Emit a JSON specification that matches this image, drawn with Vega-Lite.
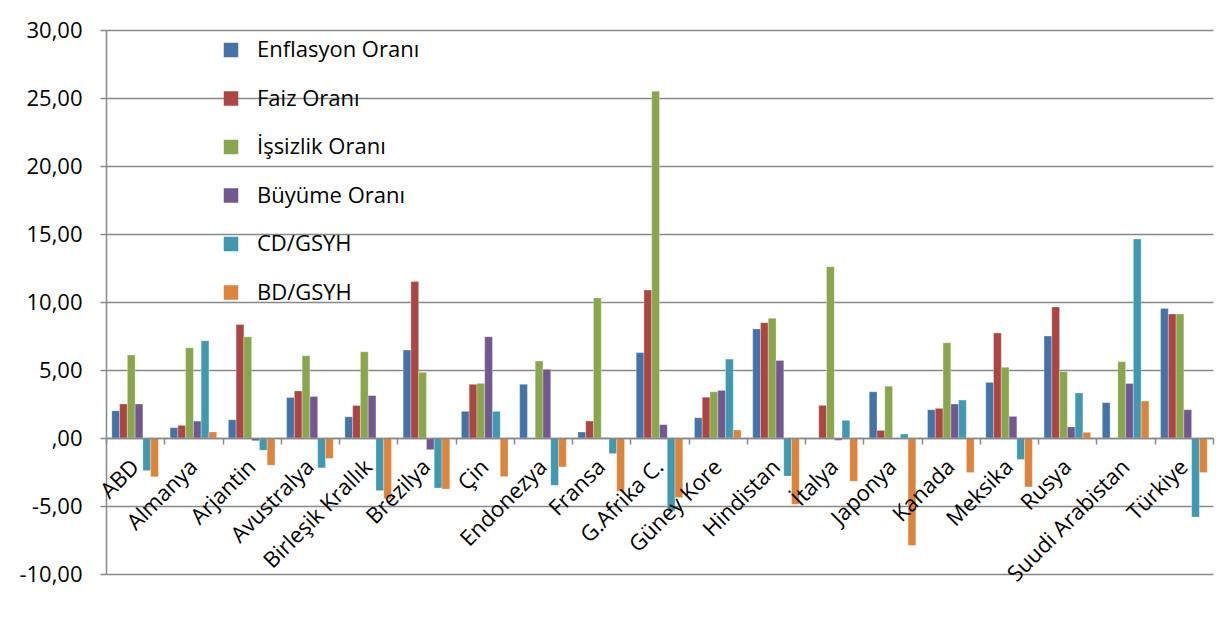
{
  "$schema": "https://vega.github.io/schema/vega-lite/v6.json",
  "width": 1107,
  "height": 544,
  "autosize": {"type": "none"},
  "padding": {"left": 106, "top": 30, "right": 6, "bottom": 56},
  "background": "white",
  "config": {
    "view": {"stroke": null},
    "font": "Open Sans"
  },
  "data": {
    "values": [
      {"ulke": "ABD", "seri": "Enflasyon Oranı", "deger": 2.0},
      {"ulke": "ABD", "seri": "Faiz Oranı", "deger": 2.5},
      {"ulke": "ABD", "seri": "İşsizlik Oranı", "deger": 6.1},
      {"ulke": "ABD", "seri": "Büyüme Oranı", "deger": 2.5},
      {"ulke": "ABD", "seri": "CD/GSYH", "deger": -2.4},
      {"ulke": "ABD", "seri": "BD/GSYH", "deger": -2.85},
      {"ulke": "Almanya", "seri": "Enflasyon Oranı", "deger": 0.76},
      {"ulke": "Almanya", "seri": "Faiz Oranı", "deger": 0.93},
      {"ulke": "Almanya", "seri": "İşsizlik Oranı", "deger": 6.63},
      {"ulke": "Almanya", "seri": "Büyüme Oranı", "deger": 1.24},
      {"ulke": "Almanya", "seri": "CD/GSYH", "deger": 7.15},
      {"ulke": "Almanya", "seri": "BD/GSYH", "deger": 0.44},
      {"ulke": "Arjantin", "seri": "Enflasyon Oranı", "deger": 1.34},
      {"ulke": "Arjantin", "seri": "Faiz Oranı", "deger": 8.34},
      {"ulke": "Arjantin", "seri": "İşsizlik Oranı", "deger": 7.44},
      {"ulke": "Arjantin", "seri": "Büyüme Oranı", "deger": -0.2},
      {"ulke": "Arjantin", "seri": "CD/GSYH", "deger": -0.9},
      {"ulke": "Arjantin", "seri": "BD/GSYH", "deger": -2.0},
      {"ulke": "Avustralya", "seri": "Enflasyon Oranı", "deger": 2.98},
      {"ulke": "Avustralya", "seri": "Faiz Oranı", "deger": 3.46},
      {"ulke": "Avustralya", "seri": "İşsizlik Oranı", "deger": 6.05},
      {"ulke": "Avustralya", "seri": "Büyüme Oranı", "deger": 3.05},
      {"ulke": "Avustralya", "seri": "CD/GSYH", "deger": -2.2},
      {"ulke": "Avustralya", "seri": "BD/GSYH", "deger": -1.5},
      {"ulke": "Birleşik Krallık", "seri": "Enflasyon Oranı", "deger": 1.56},
      {"ulke": "Birleşik Krallık", "seri": "Faiz Oranı", "deger": 2.39},
      {"ulke": "Birleşik Krallık", "seri": "İşsizlik Oranı", "deger": 6.34},
      {"ulke": "Birleşik Krallık", "seri": "Büyüme Oranı", "deger": 3.12},
      {"ulke": "Birleşik Krallık", "seri": "CD/GSYH", "deger": -3.87},
      {"ulke": "Birleşik Krallık", "seri": "BD/GSYH", "deger": -4.46},
      {"ulke": "Brezilya", "seri": "Enflasyon Oranı", "deger": 6.47},
      {"ulke": "Brezilya", "seri": "Faiz Oranı", "deger": 11.5},
      {"ulke": "Brezilya", "seri": "İşsizlik Oranı", "deger": 4.83},
      {"ulke": "Brezilya", "seri": "Büyüme Oranı", "deger": -0.86},
      {"ulke": "Brezilya", "seri": "CD/GSYH", "deger": -3.68},
      {"ulke": "Brezilya", "seri": "BD/GSYH", "deger": -3.75},
      {"ulke": "Çin", "seri": "Enflasyon Oranı", "deger": 1.96},
      {"ulke": "Çin", "seri": "Faiz Oranı", "deger": 3.95},
      {"ulke": "Çin", "seri": "İşsizlik Oranı", "deger": 4.02},
      {"ulke": "Çin", "seri": "Büyüme Oranı", "deger": 7.45},
      {"ulke": "Çin", "seri": "CD/GSYH", "deger": 1.96},
      {"ulke": "Çin", "seri": "BD/GSYH", "deger": -2.84},
      {"ulke": "Endonezya", "seri": "Enflasyon Oranı", "deger": 3.95},
      {"ulke": "Endonezya", "seri": "Faiz Oranı", "deger": 0},
      {"ulke": "Endonezya", "seri": "İşsizlik Oranı", "deger": 5.66},
      {"ulke": "Endonezya", "seri": "Büyüme Oranı", "deger": 5.05},
      {"ulke": "Endonezya", "seri": "CD/GSYH", "deger": -3.48},
      {"ulke": "Endonezya", "seri": "BD/GSYH", "deger": -2.13},
      {"ulke": "Fransa", "seri": "Enflasyon Oranı", "deger": 0.44},
      {"ulke": "Fransa", "seri": "Faiz Oranı", "deger": 1.25},
      {"ulke": "Fransa", "seri": "İşsizlik Oranı", "deger": 10.29},
      {"ulke": "Fransa", "seri": "Büyüme Oranı", "deger": 0.03},
      {"ulke": "Fransa", "seri": "CD/GSYH", "deger": -1.15},
      {"ulke": "Fransa", "seri": "BD/GSYH", "deger": -3.92},
      {"ulke": "G.Afrika C.", "seri": "Enflasyon Oranı", "deger": 6.28},
      {"ulke": "G.Afrika C.", "seri": "Faiz Oranı", "deger": 10.88},
      {"ulke": "G.Afrika C.", "seri": "İşsizlik Oranı", "deger": 25.5},
      {"ulke": "G.Afrika C.", "seri": "Büyüme Oranı", "deger": 0.98},
      {"ulke": "G.Afrika C.", "seri": "CD/GSYH", "deger": -5.37},
      {"ulke": "G.Afrika C.", "seri": "BD/GSYH", "deger": -4.38},
      {"ulke": "Güney Kore", "seri": "Enflasyon Oranı", "deger": 1.49},
      {"ulke": "Güney Kore", "seri": "Faiz Oranı", "deger": 3.0},
      {"ulke": "Güney Kore", "seri": "İşsizlik Oranı", "deger": 3.4},
      {"ulke": "Güney Kore", "seri": "Büyüme Oranı", "deger": 3.5},
      {"ulke": "Güney Kore", "seri": "CD/GSYH", "deger": 5.8},
      {"ulke": "Güney Kore", "seri": "BD/GSYH", "deger": 0.59},
      {"ulke": "Hindistan", "seri": "Enflasyon Oranı", "deger": 8.02},
      {"ulke": "Hindistan", "seri": "Faiz Oranı", "deger": 8.48},
      {"ulke": "Hindistan", "seri": "İşsizlik Oranı", "deger": 8.8},
      {"ulke": "Hindistan", "seri": "Büyüme Oranı", "deger": 5.7},
      {"ulke": "Hindistan", "seri": "CD/GSYH", "deger": -2.8},
      {"ulke": "Hindistan", "seri": "BD/GSYH", "deger": -4.88},
      {"ulke": "İtalya", "seri": "Enflasyon Oranı", "deger": -0.07},
      {"ulke": "İtalya", "seri": "Faiz Oranı", "deger": 2.4},
      {"ulke": "İtalya", "seri": "İşsizlik Oranı", "deger": 12.6},
      {"ulke": "İtalya", "seri": "Büyüme Oranı", "deger": -0.17},
      {"ulke": "İtalya", "seri": "CD/GSYH", "deger": 1.3},
      {"ulke": "İtalya", "seri": "BD/GSYH", "deger": -3.18},
      {"ulke": "Japonya", "seri": "Enflasyon Oranı", "deger": 3.4},
      {"ulke": "Japonya", "seri": "Faiz Oranı", "deger": 0.56},
      {"ulke": "Japonya", "seri": "İşsizlik Oranı", "deger": 3.81},
      {"ulke": "Japonya", "seri": "Büyüme Oranı", "deger": -0.07},
      {"ulke": "Japonya", "seri": "CD/GSYH", "deger": 0.29},
      {"ulke": "Japonya", "seri": "BD/GSYH", "deger": -7.9},
      {"ulke": "Kanada", "seri": "Enflasyon Oranı", "deger": 2.08},
      {"ulke": "Kanada", "seri": "Faiz Oranı", "deger": 2.18},
      {"ulke": "Kanada", "seri": "İşsizlik Oranı", "deger": 7.0},
      {"ulke": "Kanada", "seri": "Büyüme Oranı", "deger": 2.5},
      {"ulke": "Kanada", "seri": "CD/GSYH", "deger": 2.79},
      {"ulke": "Kanada", "seri": "BD/GSYH", "deger": -2.54},
      {"ulke": "Meksika", "seri": "Enflasyon Oranı", "deger": 4.09},
      {"ulke": "Meksika", "seri": "Faiz Oranı", "deger": 7.72},
      {"ulke": "Meksika", "seri": "İşsizlik Oranı", "deger": 5.2},
      {"ulke": "Meksika", "seri": "Büyüme Oranı", "deger": 1.59},
      {"ulke": "Meksika", "seri": "CD/GSYH", "deger": -1.58},
      {"ulke": "Meksika", "seri": "BD/GSYH", "deger": -3.6},
      {"ulke": "Rusya", "seri": "Enflasyon Oranı", "deger": 7.5},
      {"ulke": "Rusya", "seri": "Faiz Oranı", "deger": 9.63},
      {"ulke": "Rusya", "seri": "İşsizlik Oranı", "deger": 4.88},
      {"ulke": "Rusya", "seri": "Büyüme Oranı", "deger": 0.81},
      {"ulke": "Rusya", "seri": "CD/GSYH", "deger": 3.31},
      {"ulke": "Rusya", "seri": "BD/GSYH", "deger": 0.42},
      {"ulke": "Suudi Arabistan", "seri": "Enflasyon Oranı", "deger": 2.6},
      {"ulke": "Suudi Arabistan", "seri": "Faiz Oranı", "deger": 0},
      {"ulke": "Suudi Arabistan", "seri": "İşsizlik Oranı", "deger": 5.61},
      {"ulke": "Suudi Arabistan", "seri": "Büyüme Oranı", "deger": 4.0},
      {"ulke": "Suudi Arabistan", "seri": "CD/GSYH", "deger": 14.63},
      {"ulke": "Suudi Arabistan", "seri": "BD/GSYH", "deger": 2.72},
      {"ulke": "Türkiye", "seri": "Enflasyon Oranı", "deger": 9.53},
      {"ulke": "Türkiye", "seri": "Faiz Oranı", "deger": 9.12},
      {"ulke": "Türkiye", "seri": "İşsizlik Oranı", "deger": 9.12},
      {"ulke": "Türkiye", "seri": "Büyüme Oranı", "deger": 2.08},
      {"ulke": "Türkiye", "seri": "CD/GSYH", "deger": -5.81},
      {"ulke": "Türkiye", "seri": "BD/GSYH", "deger": -2.54}
    ]
  },
  "mark": {"type": "bar", "stroke": "white", "strokeWidth": 0.5, "strokeOpacity": 0.6},
  "encoding": {
    "x": {
      "field": "ulke",
      "type": "nominal",
      "sort": null,
      "scale": {"paddingInner": 0, "paddingOuter": 0},
      "axis": {
        "title": null,
        "offset": -136,
        "domainColor": "#888888",
        "domainWidth": 1.5,
        "tickBand": "extent",
        "tickColor": "#888888",
        "tickWidth": 1.5,
        "tickSize": 6,
        "labelAngle": -45,
        "labelAlign": "right",
        "labelBaseline": "middle",
        "labelPadding": 19,
        "labelFont": "Open Sans",
        "labelFontSize": 22,
        "labelColor": "#000000",
        "labelOverlap": false,
        "labelLimit": 0,
        "labelBound": false,
        "zindex": 1
      }
    },
    "xOffset": {
      "field": "seri",
      "type": "nominal",
      "sort": ["Enflasyon Oranı", "Faiz Oranı", "İşsizlik Oranı", "Büyüme Oranı", "CD/GSYH", "BD/GSYH"],
      "scale": {"paddingInner": 0, "paddingOuter": 0.75}
    },
    "y": {
      "field": "deger",
      "type": "quantitative",
      "scale": {"domain": [-10, 30], "nice": false, "zero": false},
      "axis": {
        "title": null,
        "values": [-10, -5, 0, 5, 10, 15, 20, 25, 30],
        "labelExpr": "datum.value == 0 ? ',00' : (datum.value < 0 ? '-' : '') + abs(datum.value) + ',00'",
        "labelFont": "Open Sans",
        "labelFontSize": 22,
        "labelColor": "#000000",
        "labelPadding": 18,
        "grid": true,
        "gridColor": "#888888",
        "gridWidth": 1.5,
        "domainColor": "#888888",
        "domainWidth": 1.5,
        "tickColor": "#888888",
        "tickWidth": 1.5,
        "tickSize": 6
      }
    },
    "color": {
      "field": "seri",
      "type": "nominal",
      "sort": ["Enflasyon Oranı", "Faiz Oranı", "İşsizlik Oranı", "Büyüme Oranı", "CD/GSYH", "BD/GSYH"],
      "scale": {
        "domain": ["Enflasyon Oranı", "Faiz Oranı", "İşsizlik Oranı", "Büyüme Oranı", "CD/GSYH", "BD/GSYH"],
        "range": ["#4572A7", "#AA4643", "#89A54E", "#71588F", "#4198AF", "#DB843D"]
      },
      "legend": {
        "title": null,
        "orient": "none",
        "legendX": 114,
        "legendY": 9,
        "padding": 0,
        "symbolType": "square",
        "symbolSize": 210,
        "symbolStrokeWidth": 0,
        "symbolOpacity": 1,
        "labelFont": "Open Sans",
        "labelFontSize": 22,
        "labelColor": "#000000",
        "labelOffset": 15,
        "labelLimit": 0,
        "rowPadding": 26.5
      }
    }
  }
}
